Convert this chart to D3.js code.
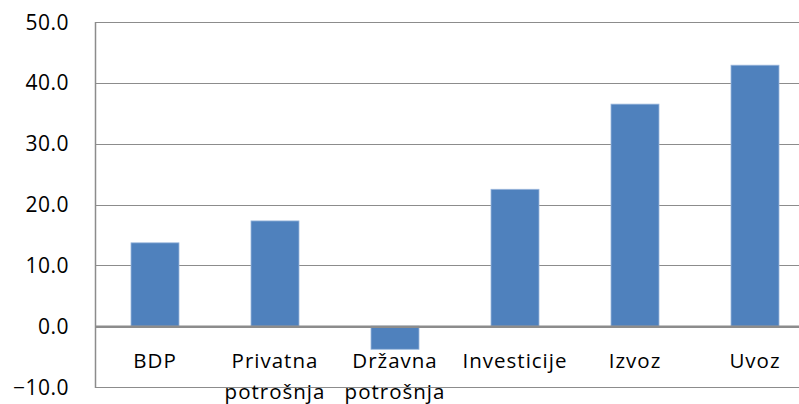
<!DOCTYPE html>
<html><head><meta charset="utf-8">
<script src="https://cdn.jsdelivr.net/npm/d3@7"></script>
<style>body{margin:0;background:#fff;}svg{display:block;}</style>
</head><body>
<svg id="c" width="799" height="404"></svg>
<script>
const categories = [["BDP"],["Privatna","potrošnja"],["Državna","potrošnja"],["Investicije"],["Izvoz"],["Uvoz"]];
const values = [13.7, 17.3, -3.8, 22.5, 36.5, 42.9];
const yTicks = [-10, 0, 10, 20, 30, 40, 50];

(function() {
const svg = d3.select("#c");
const pLeft = 95, pRight = 815, pTop = 22, pBottom = 387;
const font = "'Open Sans', 'Liberation Sans', sans-serif";

const x = d3.scaleBand().domain(d3.range(categories.length)).range([pLeft, pRight]).paddingInner(0.6).paddingOuter(0.3);
const y = d3.scaleLinear().domain([-10, 50]).range([pBottom, pTop]);

// gridlines
svg.append("g").selectAll("line").data(yTicks).join("line")
  .attr("x1", pLeft).attr("x2", 799)
  .attr("y1", d => Math.round(y(d)) + 0.5).attr("y2", d => Math.round(y(d)) + 0.5)
  .attr("stroke", "#8c8c8c").attr("stroke-width", 1.2);

// y labels
svg.append("g").selectAll("text").data(yTicks).join("text")
  .attr("x", 69).attr("y", d => y(d)).attr("dy", "0.36em")
  .attr("text-anchor", "end").attr("font-family", font).attr("font-size", 21).attr("letter-spacing", 0.5).attr("fill", "#000")
  .text(d => d3.format(".1f")(d));

// bars
svg.append("g").selectAll("rect").data(values).join("rect")
  .attr("x", (d, i) => x(i)).attr("width", x.bandwidth())
  .attr("y", d => y(Math.max(0, d))).attr("height", d => Math.abs(y(d) - y(0)))
  .attr("fill", "#4f81bd").attr("stroke", "#9bb7dc").attr("stroke-width", 0.8);

// left axis
svg.append("line").attr("x1", pLeft + 0.5).attr("x2", pLeft + 0.5).attr("y1", pTop).attr("y2", pBottom + 1)
  .attr("stroke", "#8c8c8c").attr("stroke-width", 1.5);
// zero line
svg.append("line").attr("x1", pLeft).attr("x2", 799).attr("y1", y(0) + 0.5).attr("y2", y(0) + 0.5)
  .attr("stroke", "#8c8c8c").attr("stroke-width", 2.5);

// category labels
const cl = svg.append("g").selectAll("text").data(categories).join("text")
  .attr("x", (d, i) => x(i) + x.bandwidth() / 2).attr("y", 361)
  .attr("text-anchor", "middle").attr("font-family", font).attr("font-size", 20.5).attr("letter-spacing", 1).attr("fill", "#000");
cl.selectAll("tspan").data(d => d).join("tspan")
  .attr("x", function() { return this.parentNode.getAttribute("x"); })
  .attr("dy", (d, j) => j === 0 ? "0.36em" : 31)
  .text(d => d);
})();
</script>
</body></html>
